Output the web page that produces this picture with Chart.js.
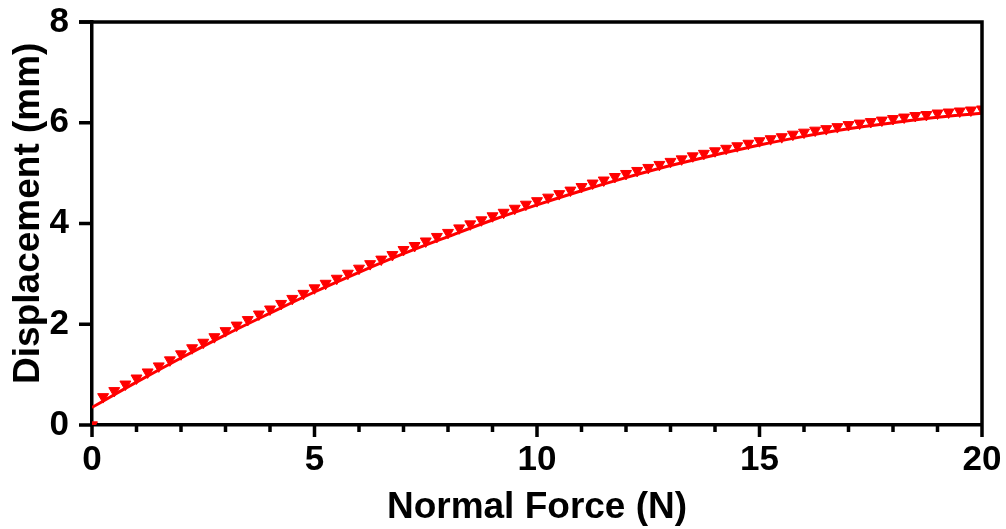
<!DOCTYPE html>
<html>
<head>
<meta charset="utf-8">
<script src="https://cdn.jsdelivr.net/npm/chart.js@4"></script>
<style>
  html, body { margin: 0; padding: 0; background: #fff; }
  #wrap { width: 1006px; height: 529px; }
</style>
</head>
<body>
<div id="wrap"><canvas id="forceChart" width="1006" height="529"></canvas></div>
<script>
// measured points: normal force (N) vs displacement (mm)
const forceN = [
  0, 0.25, 0.5, 0.75, 1, 1.25, 1.5, 1.75, 2, 2.25, 2.5, 2.75, 3, 3.25, 3.5, 3.75,
  4, 4.25, 4.5, 4.75, 5, 5.25, 5.5, 5.75, 6, 6.25, 6.5, 6.75, 7, 7.25, 7.5, 7.75,
  8, 8.25, 8.5, 8.75, 9, 9.25, 9.5, 9.75, 10, 10.25, 10.5, 10.75, 11, 11.25, 11.5, 11.75,
  12, 12.25, 12.5, 12.75, 13, 13.25, 13.5, 13.75, 14, 14.25, 14.5, 14.75, 15, 15.25, 15.5, 15.75,
  16, 16.25, 16.5, 16.75, 17, 17.25, 17.5, 17.75, 18, 18.25, 18.5, 18.75, 19, 19.25, 19.5, 19.75, 20
];
const displacementMm = [
  0, 0.56, 0.68, 0.81, 0.93, 1.05, 1.17, 1.29, 1.41, 1.53, 1.64, 1.75, 1.87, 1.98, 2.09, 2.20,
  2.30, 2.41, 2.51, 2.61, 2.72, 2.81, 2.91, 3.01, 3.11, 3.20, 3.29, 3.38, 3.48, 3.56, 3.65, 3.74,
  3.82, 3.91, 3.99, 4.07, 4.15, 4.22, 4.30, 4.38, 4.45, 4.52, 4.59, 4.66, 4.73, 4.80, 4.86, 4.93,
  4.99, 5.05, 5.11, 5.17, 5.23, 5.28, 5.34, 5.39, 5.44, 5.49, 5.54, 5.59, 5.64, 5.68, 5.72, 5.77,
  5.81, 5.85, 5.88, 5.92, 5.96, 5.99, 6.02, 6.05, 6.08, 6.11, 6.14, 6.16, 6.19, 6.21, 6.23, 6.25, 6.27
];

// fitted curve
const fitForce = [0, 1, 2, 3, 4, 5, 6, 7, 8, 9, 10, 11, 12, 13, 14, 15, 16, 17, 18, 19, 20];
const fitDisp = [0.35, 0.85, 1.33, 1.79, 2.22, 2.64, 3.03, 3.40, 3.74, 4.07, 4.37,
                 4.65, 4.91, 5.15, 5.36, 5.56, 5.73, 5.88, 6.00, 6.11, 6.19];

const xTickLabels = [0, 5, 10, 15, 20];
const yTickLabels = [0, 2, 4, 6, 8];

const RED = '#ff0000';
const AXIS_W = 3.5;

// tick marks (long at labelled x ticks, short between) and the top/right frame
const axisMarks = {
  id: 'axisMarks',
  beforeDatasetsDraw(chart) {
    const { ctx, chartArea: a, scales: { x, y } } = chart;
    ctx.save();
    ctx.strokeStyle = '#000';
    ctx.lineWidth = AXIS_W;
    ctx.beginPath();
    x.ticks.forEach(t => {
      const px = x.getPixelForValue(t.value);
      const len = xTickLabels.includes(t.value) ? 12 : 7;
      ctx.moveTo(px, a.bottom);
      ctx.lineTo(px, a.bottom + len);
    });
    yTickLabels.forEach(v => {
      const py = y.getPixelForValue(v);
      ctx.moveTo(a.left - 13, py);
      ctx.lineTo(a.left, py);
    });
    ctx.stroke();
    ctx.restore();
  },
  afterDatasetsDraw(chart) {
    const { ctx, chartArea: a } = chart;
    ctx.save();
    ctx.strokeStyle = '#000';
    ctx.lineWidth = AXIS_W;
    ctx.beginPath();
    ctx.moveTo(a.left - 13, a.top);
    ctx.lineTo(a.right, a.top);
    ctx.moveTo(a.right, a.top - AXIS_W / 2);
    ctx.lineTo(a.right, a.bottom);
    ctx.stroke();
    ctx.restore();
  }
};

const tickFont = { family: '"Liberation Sans", Arial, sans-serif', size: 35, weight: 'bold', lineHeight: 1 };
const titleFont = { family: '"Liberation Sans", Arial, sans-serif', size: 37, weight: 'bold', lineHeight: 1 };

new Chart(document.getElementById('forceChart'), {
  type: 'scatter',
  data: {
    datasets: [
      {
        label: 'Fit',
        data: fitForce.map((f, i) => ({ x: f, y: fitDisp[i] })),
        showLine: true,
        borderColor: RED,
        borderWidth: 3,
        pointRadius: 0,
        cubicInterpolationMode: 'monotone',
        order: 2
      },
      {
        label: 'Measured',
        data: forceN.map((f, i) => ({ x: f, y: displacementMm[i] })),
        showLine: false,
        pointStyle: 'triangle',
        rotation: 180,
        radius: 6.3,
        backgroundColor: RED,
        borderColor: RED,
        borderWidth: 1,
        clip: 0,
        order: 1
      }
    ]
  },
  options: {
    responsive: false,
    animation: false,
    layout: { padding: { top: 22, right: 24, left: 0, bottom: 0 } },
    plugins: { legend: { display: false }, tooltip: { enabled: false } },
    scales: {
      x: {
        type: 'linear',
        min: 0,
        max: 20,
        grid: { display: false },
        border: { display: true, color: '#000', width: AXIS_W },
        ticks: {
          stepSize: 1,
          autoSkip: false,
          maxRotation: 0,
          padding: 10,
          color: '#000',
          font: tickFont,
          callback: v => (xTickLabels.includes(v) ? String(v) : '')
        },
        title: {
          display: true,
          text: 'Normal Force (N)',
          color: '#000',
          font: titleFont,
          padding: { top: 0, bottom: 3 }
        },
        afterFit(s) {
          s.height = 104;
          s.paddingLeft = 0;
          s.paddingRight = 0;
        }
      },
      y: {
        type: 'linear',
        min: 0,
        max: 8,
        grid: { display: false },
        border: { display: true, color: '#000', width: AXIS_W },
        ticks: {
          stepSize: 2,
          padding: 15,
          color: '#000',
          font: tickFont,
          callback: v => (yTickLabels.includes(v) ? String(v) : '')
        },
        title: {
          display: true,
          // leading spaces nudge the rotated title up the axis
          text: '  Displacement (mm)',
          color: '#000',
          font: titleFont,
          padding: { top: 10, bottom: 0 }
        },
        afterFit(s) {
          s.width = 92;
          s.paddingTop = 0;
          s.paddingBottom = 0;
        }
      }
    }
  },
  plugins: [axisMarks]
});
</script>
</body>
</html>
